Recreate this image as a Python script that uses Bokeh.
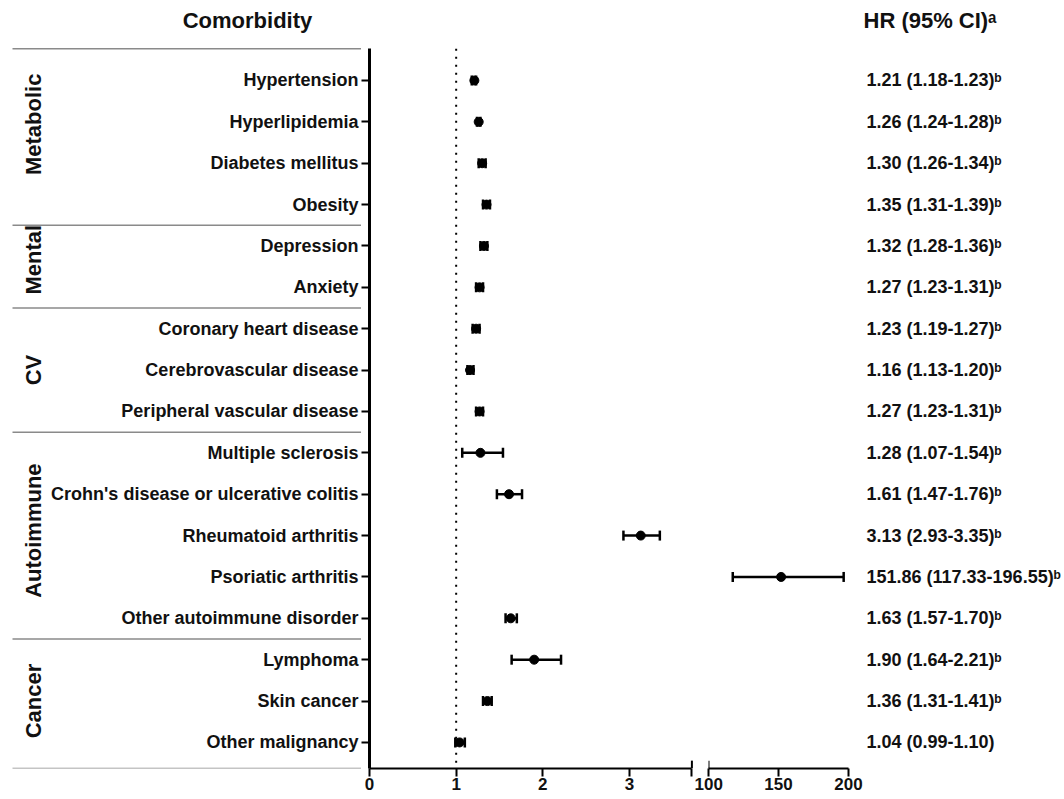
from bokeh.plotting import figure
from bokeh.layouts import row
from bokeh.models import Range1d, FixedTicker, Whisker, TeeHead, ColumnDataSource
from bokeh.core.properties import value
from bokeh.embed import file_html
from bokeh.resources import INLINE

# ---------------- data ----------------
categories = ["Hypertension", "Hyperlipidemia", "Diabetes mellitus", "Obesity",
              "Depression", "Anxiety",
              "Coronary heart disease", "Cerebrovascular disease", "Peripheral vascular disease",
              "Multiple sclerosis", "Crohn's disease or ulcerative colitis", "Rheumatoid arthritis",
              "Psoriatic arthritis", "Other autoimmune disorder",
              "Lymphoma", "Skin cancer", "Other malignancy"]
hr = [1.21, 1.26, 1.30, 1.35, 1.32, 1.27, 1.23, 1.16, 1.27, 1.28, 1.61, 3.13, 151.86, 1.63, 1.90, 1.36, 1.04]
ci_low = [1.18, 1.24, 1.26, 1.31, 1.28, 1.23, 1.19, 1.13, 1.23, 1.07, 1.47, 2.93, 117.33, 1.57, 1.64, 1.31, 0.99]
ci_high = [1.23, 1.28, 1.34, 1.39, 1.36, 1.31, 1.27, 1.20, 1.31, 1.54, 1.76, 3.35, 196.55, 1.70, 2.21, 1.41, 1.10]
significant = [True] * 16 + [False]
groups = ["Metabolic", "Mental", "CV", "Autoimmune", "Cancer"]
group_sizes = [4, 2, 3, 5, 3]
left_ticks = [0, 1, 2, 3]
right_ticks = [100, 150, 200]
reference_hr = 1

# ---------------- layout constants ----------------
FONT = "Liberation Sans"
TXT = "#111111"
H = 797
TOP = 8
BOTTOM = 29
Y_START, Y_END = 16.63, -1.74       # reversed y range (row 0 at top)
AXIS_TOP = -0.77
HEADER_Y = -1.45
LEFT_END = 3.75
LEFT_BOUND = 3.72
RIGHT_START, RIGHT_END = 100, 354.29
BREAK_UP = 0.19

rows = list(range(len(categories)))
labels = ["%.2f (%.2f-%.2f)%s" % (h, l, u, "\u1d47" if s else "")
          for h, l, u, s in zip(hr, ci_low, ci_high, significant)]

left_idx = [i for i in rows if hr[i] < LEFT_BOUND]
right_idx = [i for i in rows if hr[i] >= RIGHT_START]


def make_src(idx):
    return ColumnDataSource(dict(y=[rows[i] for i in idx], hr=[hr[i] for i in idx],
                                 lo=[ci_low[i] for i in idx], hi=[ci_high[i] for i in idx]))


def base_fig(width, x_range, mbl, mbr, yloc):
    p = figure(width=width, height=H, x_range=x_range, y_range=Range1d(Y_START, Y_END),
               output_backend="svg", toolbar_location=None, y_axis_location=yloc,
               min_border_left=mbl, min_border_right=mbr, min_border_top=TOP,
               min_border_bottom=BOTTOM)
    p.outline_line_color = None
    p.grid.visible = False
    p.background_fill_color = "white"
    p.border_fill_color = "white"
    return p


def style_xaxis(ax, ticks, bounds, visible=True):
    ax.ticker = FixedTicker(ticks=ticks)
    ax.bounds = bounds
    ax.axis_line_width = 2
    ax.major_tick_line_width = 2
    ax.major_tick_out = 8
    ax.major_tick_in = 0
    ax.minor_tick_line_color = None
    ax.major_label_standoff = 1
    ax.major_label_text_font = FONT
    ax.major_label_text_font_style = "bold"
    ax.major_label_text_font_size = "17px"
    ax.major_label_text_color = TXT if visible else None
    ax.axis_line_color = "black" if visible else None
    ax.major_tick_line_color = "black" if visible else None


# ---------------- panel A: labels ----------------
pA = base_fig(361, Range1d(0, 353), 8, 0, None)
style_xaxis(pA.xaxis[0], [100], (0, 353), visible=False)

bounds = [AXIS_TOP]
acc = 0
for n in group_sizes:
    acc += n
    bounds.append(acc - 0.5)
bounds[-1] = Y_START
pA.segment(x0=4, x1=353, y0=bounds, y1=bounds, line_color="#8a8a8a", line_width=1.5)

pA.text(x=350, y=rows, text=categories, text_align="right", text_baseline="middle",
        text_font=value(FONT), text_font_style="bold", text_font_size="18px", text_color=TXT)

group_label_pos = [1.06, 4.33, 7.0, 10.88, 15.0]
pA.text(x=25, y=group_label_pos, text=groups, angle=1.5708, text_align="center",
        text_baseline="middle", text_font=value(FONT), text_font_style="bold",
        text_font_size="22px", text_color=TXT)

pA.text(x=239, y=[HEADER_Y], text=["Comorbidity"], text_align="center", text_baseline="middle",
        text_font=value(FONT), text_font_style="bold", text_font_size="22px", text_color=TXT)

# ---------------- panel B: 0-3 segment ----------------
pB = base_fig(333, Range1d(0, LEFT_END), 8, 0, "left")
style_xaxis(pB.xaxis[0], left_ticks + [LEFT_BOUND], (0, LEFT_BOUND))
pB.xaxis[0].major_label_overrides = {LEFT_BOUND: ""}
ya = pB.yaxis[0]
ya.ticker = FixedTicker(ticks=rows)
ya.major_label_overrides = {i: "" for i in rows}
ya.major_label_standoff = 0
ya.major_tick_out = 8
ya.major_tick_in = 0
ya.major_tick_line_width = 2
ya.axis_line_width = 3
ya.minor_tick_line_color = None
ya.bounds = (AXIS_TOP, Y_START)

pB.segment(x0=[reference_hr], x1=[reference_hr], y0=[AXIS_TOP], y1=[Y_START],
           line_color="black", line_width=2, line_dash="2 6")
pB.segment(x0=[LEFT_BOUND], x1=[LEFT_BOUND], y0=[Y_START], y1=[Y_START - BREAK_UP],
           line_color="black", line_width=2)

srcB = make_src(left_idx)
pB.add_layout(Whisker(source=srcB, base="y", lower="lo", upper="hi", dimension="width",
                      line_width=2.5, line_color="black",
                      upper_head=TeeHead(size=10, line_width=2.5, line_color="black"),
                      lower_head=TeeHead(size=10, line_width=2.5, line_color="black")))
pB.scatter(x="hr", y="y", source=srcB, size=9, marker="circle", color="black")

# ---------------- panel C: 100-200 segment + HR text ----------------
pC = base_fig(370, Range1d(RIGHT_START, RIGHT_END), 14, 0, None)
style_xaxis(pC.xaxis[0], right_ticks, (right_ticks[0], right_ticks[-1]))
pC.segment(x0=[right_ticks[0]], x1=[right_ticks[0]], y0=[Y_START], y1=[Y_START - BREAK_UP],
           line_color="black", line_width=2)

srcC = make_src(right_idx)
pC.add_layout(Whisker(source=srcC, base="y", lower="lo", upper="hi", dimension="width",
                      line_width=2.5, line_color="black",
                      upper_head=TeeHead(size=10, line_width=2.5, line_color="black"),
                      lower_head=TeeHead(size=10, line_width=2.5, line_color="black")))
pC.scatter(x="hr", y="y", source=srcC, size=9, marker="circle", color="black")

pC.text(x=right_ticks[-1], y=rows, text=labels, x_offset=18, text_align="left",
        text_baseline="middle", text_font=value(FONT), text_font_style="bold",
        text_font_size="18px", text_color=TXT)
pC.text(x=right_ticks[-1], y=[HEADER_Y], text=["HR (95% CI)\u1d43"], x_offset=15,
        text_align="left", text_baseline="middle", text_font=value(FONT),
        text_font_style="bold", text_font_size="22px", text_color=TXT)

layout = row(pA, pB, pC, spacing=0)
open("out.html", "w").write(file_html(layout, INLINE))
